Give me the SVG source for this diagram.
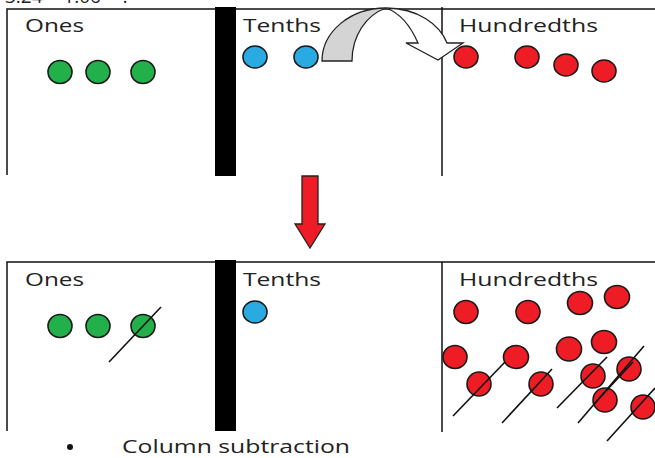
<svg xmlns="http://www.w3.org/2000/svg" width="655" height="458" viewBox="0 0 655 458">
<style>
.lbl{font-family:"Open Sans","Liberation Sans",sans-serif;font-size:19px;fill:#222}
.frame{stroke:#111;stroke-width:1.5;fill:none}
.bar{fill:#000}
.g{fill:#22b04b;stroke:#1a1a1a;stroke-width:1.6}
.b{fill:#29abe2;stroke:#1a1a1a;stroke-width:1.6}
.r{fill:#ee1c24;stroke:#1a1a1a;stroke-width:1.6}
.x{stroke:#111;stroke-width:1.6}
</style>
<rect width="655" height="458" fill="#fff"/>
<text class="lbl" x="5" y="3">3.24 − 1.06 = ?</text>

<g id="top-frame">
<path class="frame" d="M7,175 V9 H655"/>
<line class="frame" x1="442" y1="7" x2="442" y2="176"/>
<rect class="bar" x="215" y="7" width="21" height="169"/>
</g>
<g id="top-ones">
<text class="lbl" x="25" y="32" textLength="59" lengthAdjust="spacingAndGlyphs">Ones</text>
<ellipse class="g" cx="60" cy="72" rx="12" ry="11.5"/>
<ellipse class="g" cx="98" cy="72" rx="12" ry="11.5"/>
<ellipse class="g" cx="143" cy="72" rx="12" ry="11.5"/>
</g>
<g id="top-tenths">
<text class="lbl" x="243" y="32" textLength="78" lengthAdjust="spacingAndGlyphs">Tenths</text>
<ellipse class="b" cx="255" cy="57" rx="12" ry="11"/>
<ellipse class="b" cx="306" cy="57" rx="12" ry="11"/>
</g>
<g id="top-hundredths">
<text class="lbl" x="459" y="32" textLength="139" lengthAdjust="spacingAndGlyphs">Hundredths</text>
<ellipse class="r" cx="466" cy="57" rx="12" ry="11"/>
<ellipse class="r" cx="527" cy="57" rx="12" ry="11"/>
<ellipse class="r" cx="566" cy="65" rx="12" ry="11"/>
<ellipse class="r" cx="604" cy="71" rx="12" ry="11"/>
</g>

<g id="connectors">
<g id="curved-arrow" stroke="#222" stroke-width="1.3" stroke-linejoin="miter">
<path d="M322,61 C322,32 350,8 386,8 C366,15 352,36 352,61 Z" fill="#d4d4d4"/>
<path d="M386,8 C418,8 440,25 447,43 L463,43 L438,60 L406,43 L418,43 C411,27 400,13 386,8 Z" fill="#fff"/>
</g>
<path id="down-arrow" d="M302,176 H318 V224 H325 L310,248 L295,224 H302 Z" fill="#ee1c24" stroke="#222" stroke-width="1.3"/>
</g>

<g id="bottom-frame">
<path class="frame" d="M7,431 V262 H655"/>
<line class="frame" x1="442" y1="262" x2="442" y2="432"/>
<rect class="bar" x="215" y="260" width="21" height="171"/>
</g>
<g id="bottom-ones">
<text class="lbl" x="25" y="286" textLength="59" lengthAdjust="spacingAndGlyphs">Ones</text>
<ellipse class="g" cx="60" cy="326" rx="12" ry="11.5"/>
<ellipse class="g" cx="98" cy="326" rx="12" ry="11.5"/>
<ellipse class="g" cx="143" cy="326" rx="12" ry="11.5"/>
<line class="x" x1="109" y1="362" x2="161" y2="307"/>
</g>
<g id="bottom-tenths">
<text class="lbl" x="243" y="286" textLength="78" lengthAdjust="spacingAndGlyphs">Tenths</text>
<ellipse class="b" cx="255" cy="312" rx="12" ry="11"/>
</g>
<g id="bottom-hundredths">
<text class="lbl" x="459" y="286" textLength="139" lengthAdjust="spacingAndGlyphs">Hundredths</text>
<ellipse class="r" cx="466" cy="312" rx="12" ry="11.5"/>
<ellipse class="r" cx="528" cy="312" rx="12" ry="11.5"/>
<ellipse class="r" cx="580" cy="303" rx="12.5" ry="11.5"/>
<ellipse class="r" cx="617" cy="297" rx="12.5" ry="11.5"/>
<ellipse class="r" cx="455" cy="357" rx="12" ry="11.5"/>
<ellipse class="r" cx="516" cy="357" rx="12.5" ry="11.5"/>
<ellipse class="r" cx="569" cy="349" rx="12.5" ry="12"/>
<ellipse class="r" cx="604" cy="342" rx="12.5" ry="11.5"/>
<ellipse class="r" cx="479" cy="384" rx="12" ry="12"/>
<ellipse class="r" cx="541" cy="384" rx="12" ry="12"/>
<ellipse class="r" cx="593" cy="376" rx="12" ry="12"/>
<ellipse class="r" cx="629" cy="369" rx="12" ry="12"/>
<ellipse class="r" cx="605" cy="400" rx="12" ry="12"/>
<ellipse class="r" cx="643" cy="407" rx="12" ry="12"/>
<line class="x" x1="453" y1="416" x2="505" y2="362"/>
<line class="x" x1="502" y1="423" x2="552" y2="369"/>
<line class="x" x1="557" y1="408" x2="607" y2="357"/>
<line class="x" x1="578" y1="423" x2="644" y2="346"/>
<line class="x" x1="594" y1="404" x2="633" y2="362"/>
<line class="x" x1="607" y1="441" x2="655" y2="388"/>
</g>

<g id="caption">
<circle cx="70" cy="447" r="3" fill="#111"/>
<text class="lbl" x="122" y="453" textLength="228" lengthAdjust="spacingAndGlyphs">Column subtraction</text>
</g>
</svg>
